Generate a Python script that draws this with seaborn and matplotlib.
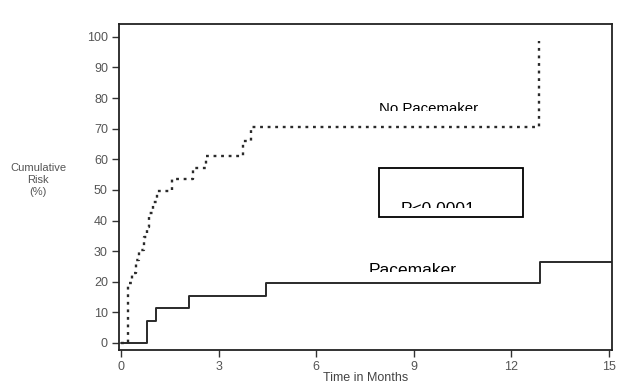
import matplotlib
matplotlib.use("Agg")
import matplotlib.pyplot as plt
import seaborn as sns
import pandas as pd
from matplotlib.patches import Rectangle
from matplotlib.transforms import Bbox, TransformedBbox

# ---- data ----
months_no_pacer = [0, 0.21, 0.34, 0.46, 0.55, 0.70, 0.79, 0.85, 1.0, 1.1, 1.56, 2.23, 2.6, 3.76, 4.0, 12.86]
risk_no_pacer = [0, 19.5, 23, 27, 30.5, 34.5, 38, 42.5, 46, 49.5, 53.5, 57, 61, 66, 70.5, 98.5]

months_pacer = [0, 0.8, 1.07, 2.08, 4.47, 12.9, 15.1]
risk_pacer = [0, 7.3, 11.4, 15.5, 19.6, 26.3, 26.3]

x_ticks = [0, 3, 6, 9, 12, 15]
y_ticks = [0, 10, 20, 30, 40, 50, 60, 70, 80, 90, 100]

label_no_pacer = "No Pacemaker"
label_pacer = "Pacemaker"
p_text = "P<0.0001"

sns.set_theme(style="white")
plt.rcParams["font.family"] = ["Liberation Sans", "DejaVu Sans"]

W, H = 626, 385
fig = plt.figure(figsize=(W / 100, H / 100), dpi=100)
L, R, T, B = 119, 612, 24, 350
ax = fig.add_axes([L / W, 1 - B / H, (R - L) / W, (B - T) / H])

df_np = pd.DataFrame({"month": months_no_pacer, "risk": risk_no_pacer})
df_p = pd.DataFrame({"month": months_pacer, "risk": risk_pacer})

sns.lineplot(data=df_p, x="month", y="risk", ax=ax, drawstyle="steps-post",
             color="#2a2a2a", linewidth=1.4, sort=False, estimator=None)
sns.lineplot(data=df_np, x="month", y="risk", ax=ax, drawstyle="steps-post",
             color="#2a2a2a", linewidth=1.7, linestyle=(0, (1.2, 2.0)),
             sort=False, estimator=None)

ax.set_xlim(-0.06, 15.1)
ax.set_ylim(-2.3, 104.2)
ax.set_xticks(x_ticks)
ax.set_yticks(y_ticks)
ax.set_xlabel("")
ax.set_ylabel("")
ax.tick_params(axis="both", direction="out", length=5, width=1.0, color="#333333",
               labelsize=9, labelcolor="#555555", pad=3, bottom=True, left=True)
for s in ax.spines.values():
    s.set_visible(True)
    s.set_color("#222222")
    s.set_linewidth(1.3)


def fx(px):
    return (px - L) / (R - L)


def fy(py):
    return (B - py) / (B - T)


def clipped_text(s, xc, baseline, clip_bottom, size):
    t = ax.text(fx(xc), fy(baseline), s, transform=ax.transAxes, ha="center",
                va="baseline", fontsize=size, color="black", zorder=6,
                clip_on=True)
    t.set_clip_path(None)
    t.set_clip_box(TransformedBbox(Bbox([[0, fy(clip_bottom)], [1, 1]]),
                                   ax.transAxes))
    return t


clipped_text(label_no_pacer, 429, 113, 111, 10.8)

ax.add_patch(Rectangle((fx(379), fy(217)), fx(523) - fx(379), fy(168) - fy(217),
                       transform=ax.transAxes, facecolor="white", edgecolor="black",
                       linewidth=1.3, zorder=5))
clipped_text(p_text, 438, 214, 208, 12.5)

clipped_text(label_pacer, 413, 275, 272, 12.5)

fig.text(38 / W, 1 - 180 / H, "Cumulative\nRisk\n(%)", ha="center", va="center",
         fontsize=8, color="#555555", linespacing=1.2)
fig.text(366 / W, 1 - 384 / H, "Time in Months", ha="center", va="bottom",
         fontsize=9, color="#444444")

fig.savefig("out.png", dpi=100)
